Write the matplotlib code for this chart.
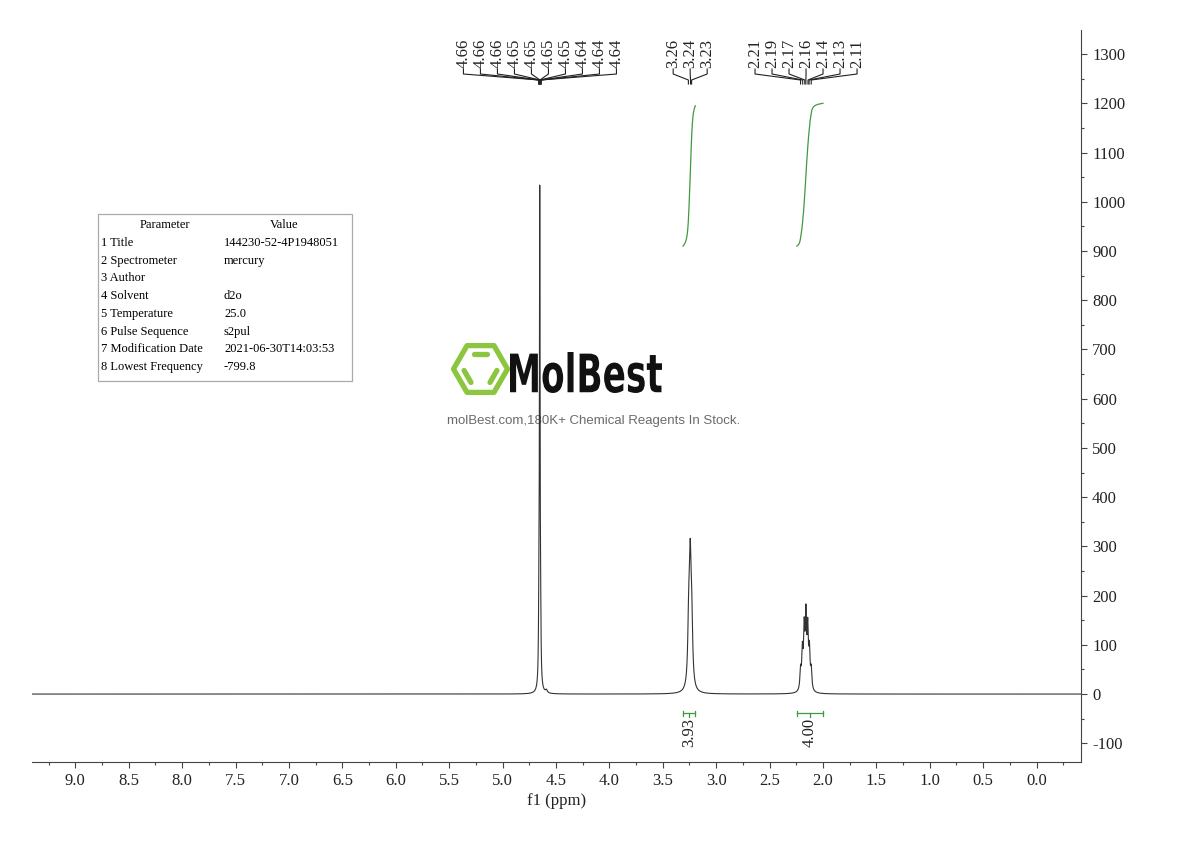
import numpy as np
import matplotlib
matplotlib.use("Agg")
import matplotlib.pyplot as plt
from matplotlib.patches import Polygon, Rectangle, PathPatch
from matplotlib.textpath import TextPath
from matplotlib.font_manager import FontProperties
from matplotlib.transforms import Affine2D
from matplotlib.ticker import MultipleLocator, FormatStrFormatter

# resolved lines of the 1H spectrum: position (ppm), height, half width (ppm)
line_ppm = [4.660, 4.652, 4.644, 4.590, 3.257, 3.243, 3.229,
            2.210, 2.193, 2.176, 2.160, 2.143, 2.127, 2.110]
line_height = [110, 990, 110, 6, 125, 232, 125,
               40, 75, 115, 140, 115, 75, 40]
line_hwhm = [0.004, 0.0035, 0.004, 0.01, 0.01, 0.01, 0.01,
             0.007, 0.007, 0.007, 0.007, 0.007, 0.007, 0.007]

# peak picking labels, one list per multiplet
peaks_hdo = [4.66, 4.66, 4.66, 4.65, 4.65, 4.65, 4.65, 4.64, 4.64, 4.64]
peaks_ch2n = [3.26, 3.24, 3.23]
peaks_ch2 = [2.21, 2.19, 2.17, 2.16, 2.14, 2.13, 2.11]

# integrals
int_start = [3.31, 2.245]
int_end = [3.195, 2.00]
int_value = [3.93, 4.00]

# parameter table
param_names = ["1 Title", "2 Spectrometer", "3 Author", "4 Solvent",
               "5 Temperature", "6 Pulse Sequence", "7 Modification Date",
               "8 Lowest Frequency"]
param_values = ["144230-52-4P1948051", "mercury", "", "d2o", "25.0",
                "s2pul", "2021-06-30T14:03:53", "-799.8"]

plt.rcParams['font.family'] = ['Liberation Serif', 'DejaVu Serif']
plt.rcParams['axes.unicode_minus'] = False

GREEN = '#3f9a3f'

ppm = np.linspace(9.45, -0.45, 60000)
intensity = np.zeros_like(ppm)
for p, h, w in zip(line_ppm, line_height, line_hwhm):
    intensity += h * w**2 / ((ppm - p)**2 + w**2)

fig = plt.figure(figsize=(11.9, 8.41), dpi=100)
ax = fig.add_axes([32/1190, 79/841, 1049/1190, 732/841])
ax.set_zorder(1)
ax.patch.set_visible(False)

ax.plot(ppm, intensity, color='#333333', lw=0.8)
ax.set_xlim(9.406, -0.416)
ax.set_ylim(-138, 1349)

for s in ['top', 'left']:
    ax.spines[s].set_visible(False)
for s in ['bottom', 'right']:
    ax.spines[s].set_color('#444444')
ax.yaxis.tick_right()
ax.xaxis.set_major_locator(MultipleLocator(0.5))
ax.xaxis.set_minor_locator(MultipleLocator(0.25))
ax.yaxis.set_major_locator(MultipleLocator(100))
ax.yaxis.set_minor_locator(MultipleLocator(50))
ax.xaxis.set_major_formatter(FormatStrFormatter('%.1f'))
ax.yaxis.set_major_formatter(FormatStrFormatter('%d'))
ax.tick_params(which='major', direction='out', length=4, width=0.8,
               labelsize=12, colors='#444444', labelcolor='#222222', pad=4)
ax.tick_params(which='minor', direction='out', length=2.5, width=0.8,
               colors='#444444')
ax.set_xlabel('f1 (ppm)', fontsize=12, labelpad=3, color='#222222')

# integral curves and brackets
for a, b, v in zip(int_start, int_end, int_value):
    m = (ppm <= a) & (ppm >= b)
    cum = np.cumsum(intensity[m])
    ax.plot(ppm[m], 910 + cum / cum[-1] * 290 * v / 4.00, color=GREEN, lw=0.9)
    mid = (a + b) / 2
    ax.plot([a, b], [-39, -39], color=GREEN, lw=0.9)
    ax.plot([a, a], [-44, -34], color=GREEN, lw=0.9)
    ax.plot([b, b], [-44, -34], color=GREEN, lw=0.9)
    ax.plot([mid, mid], [-39, -47], color=GREEN, lw=0.9)
    ax.text(mid, -48, f'{v:.2f}', rotation=90, ha='center', va='top',
            fontsize=12, color='#222222')

# pixel overlay for annotations
ov = fig.add_axes([0, 0, 1, 1], zorder=0)
ov.set_xlim(0, 1190)
ov.set_ylim(841, 0)
ov.axis('off')


def to_px(x):
    return ax.transData.transform((x, 0))[0]


for group in [peaks_hdo, peaks_ch2n, peaks_ch2]:
    tips = [to_px(v) for v in group]
    n = len(group)
    xs = np.mean(tips) + (np.arange(n) - (n - 1) / 2) * 17
    for lx, tip, v in zip(xs, tips, group):
        ov.text(lx, 68, f'{v:.2f}', rotation=90, ha='center', va='bottom',
                fontsize=12, color='#222222')
        ov.plot([lx, lx, tip, tip], [69, 74, 80, 84], color='#222222', lw=0.8)

# parameter table
ov.add_patch(Rectangle((98, 214), 254, 167, fill=False, ec='#aaaaaa', lw=0.9))
ov.text(165, 225, 'Parameter', ha='center', va='center', fontsize=9)
ov.text(284, 225, 'Value', ha='center', va='center', fontsize=9)
for i, (n, v) in enumerate(zip(param_names, param_values)):
    y = 243 + i * 17.7
    ov.text(101, y, n, ha='left', va='center', fontsize=9)
    ov.text(224, y, v, ha='left', va='center', fontsize=9)

# watermark logo
LOGO_GREEN = '#8cc63f'
cx, cy, R = 480.5, 369, 27.0
ang = np.radians(np.arange(0, 360, 60))
ov.add_patch(Polygon(np.c_[cx + R * np.cos(ang), cy + R * np.sin(ang)],
                     closed=True, fill=False, ec=LOGO_GREEN, lw=3.8,
                     joinstyle='round'))
for a0, a1 in [(240, 300), (120, 180), (0, 60)]:
    p0 = np.array([cx, cy]) + 0.64 * R * np.array([np.cos(np.radians(a0)), np.sin(np.radians(a0))])
    p1 = np.array([cx, cy]) + 0.64 * R * np.array([np.cos(np.radians(a1)), np.sin(np.radians(a1))])
    mid = (p0 + p1) / 2
    p0, p1 = mid + (p0 - mid) * 0.8, mid + (p1 - mid) * 0.8
    ov.plot([p0[0], p1[0]], [p0[1], p1[1]], color=LOGO_GREEN, lw=3.8,
            solid_capstyle='round')

tp = TextPath((0, 0), 'MolBest', size=50,
              prop=FontProperties(family='DejaVu Sans', weight='bold'))
bb = tp.get_extents()
tr = Affine2D().translate(-bb.x0, -bb.y0).scale(152 / bb.width, -41 / bb.height).translate(510, 393)
ov.add_patch(PathPatch(tr.transform_path(tp), fc='#111111', ec='none'))
ov.text(594, 421, 'molBest.com,180K+ Chemical Reagents In Stock.',
        family='Liberation Sans', fontsize=9.5, color='#6a6a6a',
        ha='center', va='center')

fig.savefig('out.png', dpi=100)
